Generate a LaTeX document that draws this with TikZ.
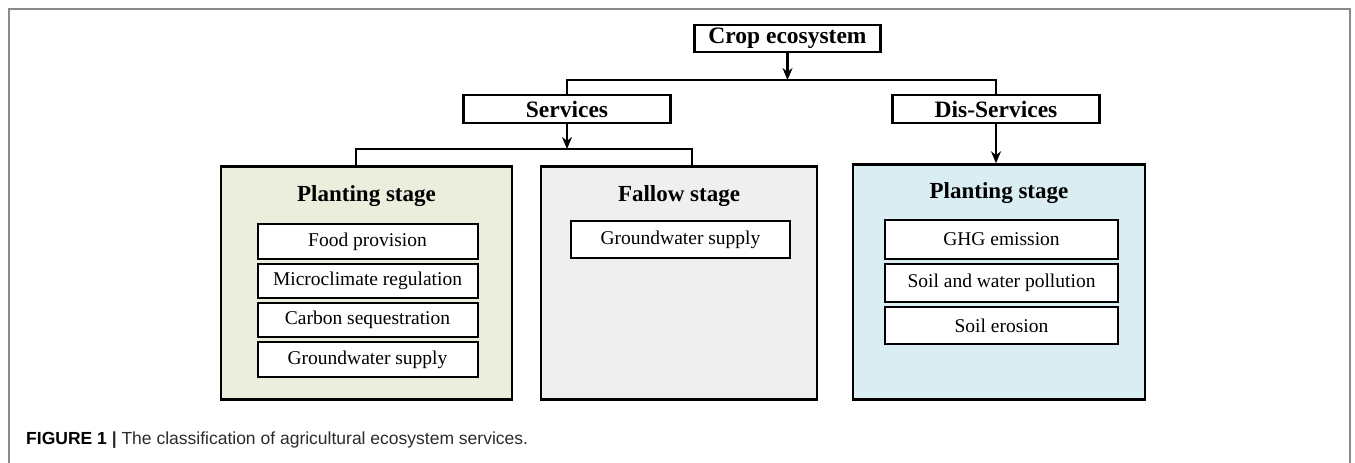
\documentclass[tikz,border=0pt]{standalone}
\usepackage{fontspec}
\setmainfont{Liberation Serif}
\newfontfamily\capfont{Liberation Sans}
\usetikzlibrary{arrows.meta}
\definecolor{plantgreen}{HTML}{EBEEDC}
\definecolor{fallowgray}{HTML}{EFEFEF}
\definecolor{disblue}{HTML}{DAEDF2}
\definecolor{framegray}{HTML}{8A8A8A}
\definecolor{captext}{HTML}{2B2B2B}
\tikzset{
  headbox/.style={draw, line width=2.2pt, fill=white, inner sep=0pt,
    font=\fontsize{23.5}{26}\selectfont\bfseries},
  stagebox/.style={draw, line width=2.5pt, inner sep=0pt},
  itembox/.style={draw, line width=2pt, fill=white, inner sep=0pt,
    font=\fontsize{19.5}{22}\selectfont},
  stagetitle/.style={inner sep=0pt, font=\fontsize{23}{25}\selectfont\bfseries},
  conn/.style={line width=2.2pt},
  arr/.style={line width=2.2pt, -{Stealth[length=12pt,width=10pt]}},
}
\begin{document}
\begin{tikzpicture}[x=1pt,y=-1pt]
\useasboundingbox (0,0) rectangle (1355,463);
% outer frame
\draw[framegray, line width=1.4pt] (9,463) -- (9,9) -- (1350,9) -- (1350,463);

% top level
\node[headbox, minimum width=186pt, minimum height=27pt] (crop) at (787.5,38.5) {Crop ecosystem};
\node[headbox, minimum width=207pt, minimum height=28pt] (services) at (567,109) {Services};
\node[headbox, minimum width=207pt, minimum height=28pt] (dis) at (996,109) {Dis-Services};

% stage boxes
\node[stagebox, fill=plantgreen, minimum width=291pt, minimum height=233pt] (plant) at (366.5,283) {};
\node[stagebox, fill=fallowgray, minimum width=276pt, minimum height=233pt] (fallow) at (679,283) {};
\node[stagebox, fill=disblue, minimum width=292pt, minimum height=235pt] (blue) at (999,282) {};

% titles
\node[stagetitle] (pt1) at (366.5,196) {Planting stage};
\node[stagetitle] (ft1) at (679,196) {Fallow stage};
\node[stagetitle] (bt1) at (999,193) {Planting stage};

% items
\node[itembox, minimum width=220pt, minimum height=35pt] (i1) at (367.5,241.5) {Food provision};
\node[itembox, minimum width=220pt, minimum height=34pt] (i2) at (367.5,281) {Microclimate regulation};
\node[itembox, minimum width=220pt, minimum height=34pt] (i3) at (367.5,320) {Carbon sequestration};
\node[itembox, minimum width=220pt, minimum height=35pt] (i4) at (367.5,359.5) {Groundwater supply};

\node[itembox, minimum width=219pt, minimum height=37pt] (f1) at (680.5,239.5) {Groundwater supply};

\node[itembox, minimum width=233pt, minimum height=39pt] (d1) at (1001.5,239.5) {GHG emission};
\node[itembox, minimum width=233pt, minimum height=38pt] (d2) at (1001.5,283) {Soil and water pollution};
\node[itembox, minimum width=233pt, minimum height=37pt] (d3) at (1001.5,325.5) {Soil erosion};

% connectors
\coordinate (h1) at (787.5,80);
\draw[conn] (services.north) |- (h1) -| (dis.north);
\draw[arr] (crop.south) -- (h1);

\coordinate (h2) at (567,149);
\coordinate (pl) at (356,149);
\coordinate (fl) at (692,149);
\draw[arr] (services.south) -- (h2);
\draw[conn] (plant.north -| pl) -- (pl) -- (fl) -- (fallow.north -| fl);

\draw[arr] (dis.south) -- (dis.south |- blue.north);

% caption
\node[anchor=base west, inner sep=0pt, font=\capfont\fontsize{17.5}{20}\selectfont, text=captext] (cap) at (26,444)
  {\textbf{\color{black}FIGURE 1} \textbf{|} The classification of agricultural ecosystem services.};
\end{tikzpicture}
\end{document}
